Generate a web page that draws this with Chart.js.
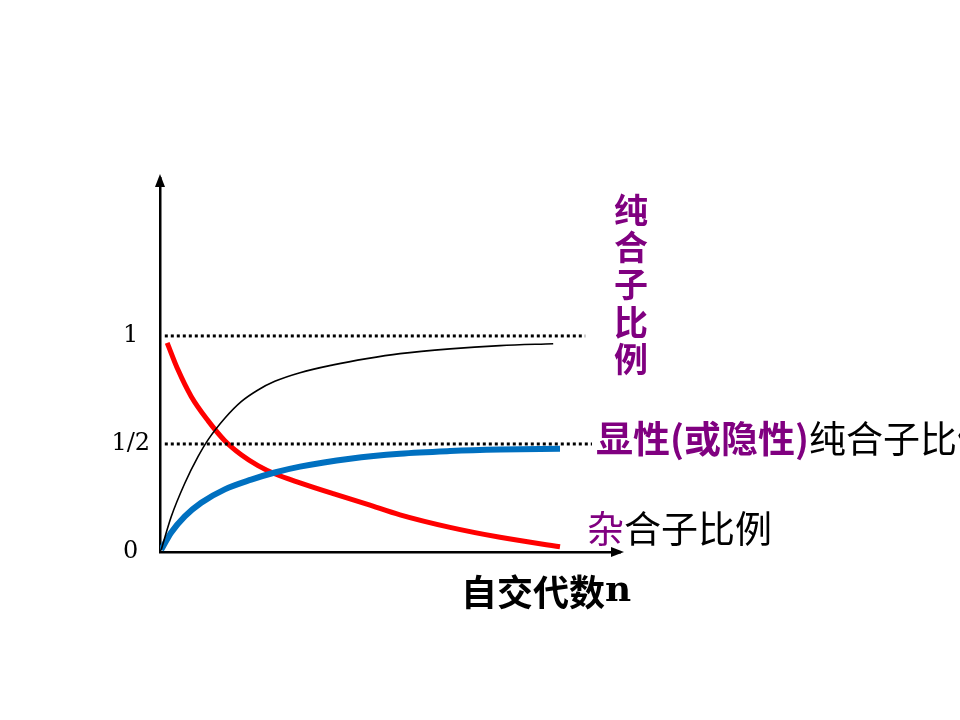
<!DOCTYPE html>
<html>
<head>
<meta charset="utf-8">
<script src="https://cdn.jsdelivr.net/npm/chart.js@4"></script>
<style>
  html, body { margin: 0; padding: 0; background: #fff; }
  #wrap { width: 960px; height: 720px; }
</style>
</head>
<body>
<div id="wrap"><canvas id="selfChart" width="960" height="720"></canvas></div>
<script>
// x = generations (arbitrary units along the axis), y = proportion
const pureX   = [0.03, 0.28, 0.62, 0.95, 1.2, 1.62, 2.03, 2.45, 2.87, 3.5, 4.33, 5.17, 6.0, 7.25, 8.5, 9.83];
const pureY   = [0.01, 0.163, 0.318, 0.441, 0.519, 0.619, 0.696, 0.75, 0.79, 0.83, 0.866, 0.895, 0.918, 0.94, 0.955, 0.964];
const domX    = [0.03, 0.28, 0.62, 1.03, 1.62, 2.28, 2.87, 3.5, 4.75, 6.0, 7.25, 8.5, 10];
const domY    = [0.01, 0.09, 0.165, 0.228, 0.29, 0.335, 0.368, 0.395, 0.432, 0.455, 0.467, 0.474, 0.478];
const hetX    = [0.18, 0.45, 0.78, 1.2, 1.62, 2.03, 2.45, 2.87, 3.5, 4.33, 5.17, 6.0, 7.25, 8.5, 10];
const hetY    = [0.968, 0.843, 0.72, 0.608, 0.515, 0.45, 0.40, 0.362, 0.32, 0.27, 0.222, 0.172, 0.114, 0.068, 0.024];
const oneX    = [0.12, 10.63];
const oneY    = [1, 1];
const halfX   = [0.12, 10.8];
const halfY   = [0.5, 0.5];
const yTicks  = [0, 0.5, 1];
const yLabels = ['0', '1/2', '1'];

const pts = (xs, ys) => xs.map((x, i) => ({ x: x, y: ys[i] }));

const labelsPlugin = {
    id: 'labels',
    afterDraw(chart) {
        const ctx = chart.ctx;
        const a = chart.chartArea;
        ctx.save();
        // axis arrows
        ctx.fillStyle = '#000';
        ctx.beginPath();
        ctx.moveTo(a.left, a.top - 4);
        ctx.lineTo(a.left - 5, a.top + 9);
        ctx.lineTo(a.left + 5, a.top + 9);
        ctx.fill();
        ctx.beginPath();
        ctx.moveTo(a.right + 4, a.bottom);
        ctx.lineTo(a.right - 9, a.bottom - 5);
        ctx.lineTo(a.right - 9, a.bottom + 5);
        ctx.fill();

        const cjk = '"Noto Sans CJK SC", sans-serif';
        ctx.textBaseline = 'middle';

        // vertical label
        ctx.fillStyle = '#800080';
        ctx.font = 'bold 34px ' + cjk;
        ctx.textAlign = 'center';
        '纯合子比例'.split('').forEach((c, i) => ctx.fillText(c, 631, 210 + i * 37.2));

        // rich text helper
        const rich = (parts, x, y) => {
            ctx.textAlign = 'left';
            parts.forEach(p => {
                ctx.font = p[2];
                ctx.fillStyle = p[1];
                ctx.fillText(p[0], x, y);
                x += ctx.measureText(p[0]).width;
            });
        };
        rich([['显性(或隐性)', '#800080', 'bold 37px ' + cjk], ['纯合子比例', '#000', '37px ' + cjk]], 596, 439);
        rich([['杂', '#800080', '37px ' + cjk], ['合子比例', '#000', '37px ' + cjk]], 587, 529);
        rich([['自交代数', '#000', 'bold 36px ' + cjk], ['n', '#000', 'bold 36px "DejaVu Serif", serif']], 461, 592);
        ctx.restore();
    }
};

new Chart(document.getElementById('selfChart'), {
    type: 'line',
    data: {
        datasets: [
            { data: pts(oneX, oneY), borderColor: '#000', borderWidth: 3, borderDash: [3, 3], pointRadius: 0 },
            { data: pts(halfX, halfY), borderColor: '#000', borderWidth: 3, borderDash: [3, 3], pointRadius: 0 },
            { data: pts(pureX, pureY), borderColor: '#000', borderWidth: 1.6, pointRadius: 0, cubicInterpolationMode: 'monotone' },
            { data: pts(domX, domY), borderColor: '#0070C0', borderWidth: 6, pointRadius: 0, cubicInterpolationMode: 'monotone' },
            { data: pts(hetX, hetY), borderColor: '#ff0000', borderWidth: 5, pointRadius: 0, cubicInterpolationMode: 'monotone' }
        ]
    },
    options: {
        responsive: false,
        animation: false,
        layout: { padding: { top: 178, right: 340, left: 96, bottom: 0 } },
        plugins: { legend: { display: false }, tooltip: { enabled: false } },
        scales: {
            x: {
                type: 'linear',
                min: 0,
                max: 11.5,
                grid: { display: false, drawTicks: false },
                border: { display: true, color: '#000', width: 2.5 },
                ticks: { display: false },
                afterFit: s => { s.height = 168; }
            },
            y: {
                min: 0,
                max: 1.731,
                grid: { display: false, drawTicks: false },
                border: { display: true, color: '#000', width: 2.5 },
                afterBuildTicks: s => { s.ticks = yTicks.map(v => ({ value: v })); },
                ticks: {
                    color: '#000',
                    padding: 10,
                    crossAlign: 'center',
                    font: { family: '"DejaVu Serif", serif', size: 24 },
                    callback: v => yLabels[yTicks.indexOf(v)]
                },
                afterFit: s => { s.width = 64; }
            }
        }
    },
    plugins: [labelsPlugin]
});
</script>
</body>
</html>
